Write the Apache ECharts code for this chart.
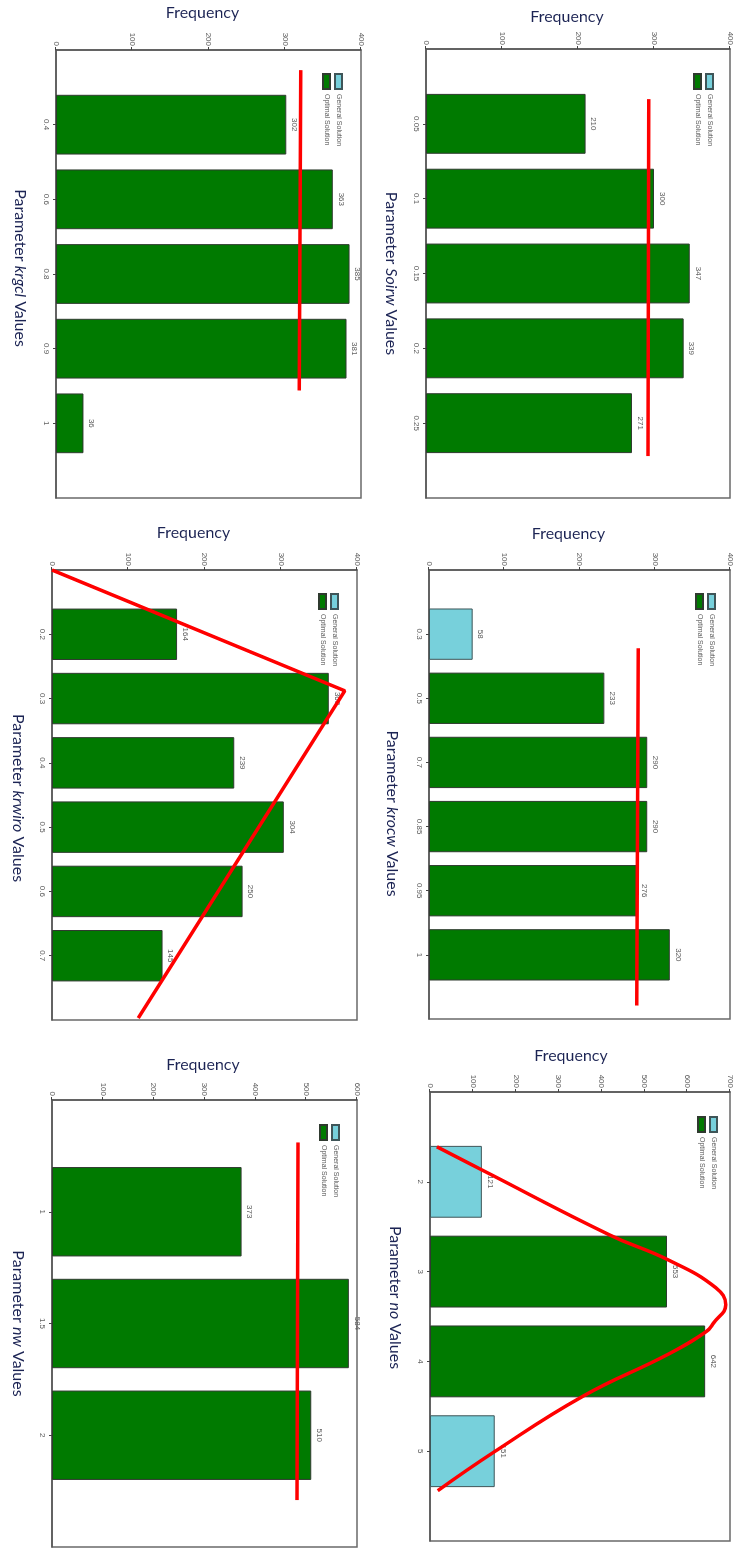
<!DOCTYPE html>
<html>
<head>
<meta charset="utf-8">
<title>Parameter frequency histograms</title>
<script src="https://cdn.jsdelivr.net/npm/echarts@6/dist/echarts.min.js"></script>
<style>
  html, body { margin: 0; padding: 0; background: #fff; overflow: hidden; width: 734px; height: 1549px; }
  /* the figure is laid out landscape and turned a quarter turn clockwise onto the page */
  #stage { position: absolute; left: 0; top: 0; width: 1549px; height: 734px;
           transform-origin: 0 0; transform: translate(734px, 0) rotate(90deg); }
</style>
</head>
<body>
<div id="stage"></div>
<script>
// ---- data ----------------------------------------------------------------
// Soirw
const soirwCats    = ['0.05', '0.1', '0.15', '0.2', '0.25'];
const soirwGeneral = ['-', '-', '-', '-', '-'];
const soirwOptimal = [210, 300, 347, 339, 271];
const soirwTrend   = [[0.67, 293], [5.44, 292]];

// krocw
const krocwCats    = ['0.3', '0.5', '0.7', '0.85', '0.95', '1'];
const krocwGeneral = [58, '-', '-', '-', '-', '-'];
const krocwOptimal = ['-', 233, 290, 290, 276, 320];
const krocwTrend   = [[1.22, 278], [6.79, 276]];

// no
const noCats    = ['2', '3', '4', '5'];
const noGeneral = [121, '-', '-', 151];
const noOptimal = ['-', 553, 642, '-'];
const noTrend   = [[0.61, 16], [0.87, 122], [1.59, 418], [1.87, 556], [2.18, 667], [2.37, 690],
                   [2.57, 662], [2.67, 644], [2.92, 556], [3.39, 356], [4.01, 149], [4.44, 18]];

// krgcl
const krgclCats    = ['0.4', '0.6', '0.8', '0.9', '1'];
const krgclGeneral = ['-', '-', '-', '-', '-'];
const krgclOptimal = [302, 363, 385, 381, 36];
const krgclTrend   = [[0.27, 321], [4.56, 319]];

// krwiro
const krwiroCats    = ['0.2', '0.3', '0.4', '0.5', '0.6', '0.7'];
const krwiroGeneral = ['-', '-', '-', '-', '-', '-'];
const krwiroOptimal = [164, 363, 239, 304, 250, 145];
const krwiroTrend   = [[0, 0], [1.88, 384], [6.97, 113]];

// nw
const nwCats    = ['1', '1.5', '2'];
const nwGeneral = ['-', '-', '-'];
const nwOptimal = [373, 584, 510];
const nwTrend   = [[0.38, 484], [3.58, 482]];

const frequencyMax = [400, 400, 700, 400, 400, 600];
const paramNames   = ['Soirw', 'krocw', 'no', 'krgcl', 'krwiro', 'nw'];

const panels = [
  { cats: soirwCats,  general: soirwGeneral,  optimal: soirwOptimal,  trend: soirwTrend,  smooth: false },
  { cats: krocwCats,  general: krocwGeneral,  optimal: krocwOptimal,  trend: krocwTrend,  smooth: false },
  { cats: noCats,     general: noGeneral,     optimal: noOptimal,     trend: noTrend,     smooth: true  },
  { cats: krgclCats,  general: krgclGeneral,  optimal: krgclOptimal,  trend: krgclTrend,  smooth: false },
  { cats: krwiroCats, general: krwiroGeneral, optimal: krwiroOptimal, trend: krwiroTrend, smooth: false },
  { cats: nwCats,     general: nwGeneral,     optimal: nwOptimal,     trend: nwTrend,     smooth: false }
];

// ---- layout (landscape coordinates, before the quarter turn) --------------
const layouts = [
  { left: 49,   top: 3,   width: 449, height: 305, legendLeft: 68,   legendTop: 15,  nameGap: 27, namePad: [0, 0, 0, 0],  freqGap: 24, freqPad: [0, 22, 0, 0] },
  { left: 570,  top: 0,   width: 449, height: 305, legendLeft: 588,  legendTop: 13,  nameGap: 29, namePad: [0, 0, 0, 38], freqGap: 28, freqPad: [0, 22, 0, 0] },
  { left: 1092, top: 0,   width: 449, height: 304, legendLeft: 1111, legendTop: 11,  nameGap: 27, namePad: [0, 38, 0, 0], freqGap: 28, freqPad: [0, 18, 0, 0] },
  { left: 50,   top: 373, width: 448, height: 305, legendLeft: 68,   legendTop: 386, nameGap: 28, namePad: [0, 12, 0, 0], freqGap: 29, freqPad: [0, 12, 0, 0] },
  { left: 570,  top: 377, width: 450, height: 305, legendLeft: 588,  legendTop: 390, nameGap: 26, namePad: [0, 0, 0, 6],  freqGap: 29, freqPad: [0, 22, 0, 0] },
  { left: 1100, top: 377, width: 447, height: 305, legendLeft: 1119, legendTop: 389, nameGap: 26, namePad: [0, 0, 0, 0],  freqGap: 27, freqPad: [0, 3, 0, 0] }
];

const TITLE_COLOR = '#1c2454';
const SMALL_COLOR = '#5a5a5a';
const GREEN = '#007a00';
const CYAN = '#77d0db';

const option = {
  animation: false,
  backgroundColor: '#fff',
  grid: [], xAxis: [], yAxis: [], legend: [], series: []
};

// an empty slot is kept on each side of the bars
const padSlots = arr => ['-'].concat(arr, ['-']);

panels.forEach((p, i) => {
  const L = layouts[i];
  const n = p.cats.length;
  const onCategory = idx => idx > 0 && idx <= n;

  option.grid.push({
    left: L.left, top: L.top, width: L.width, height: L.height,
    show: true, borderColor: '#6a6a6a', borderWidth: 1.5, backgroundColor: '#fff'
  });

  option.xAxis.push({
    type: 'category', gridIndex: i, boundaryGap: false,
    data: [''].concat(p.cats, ['']),
    axisLine: { show: true, lineStyle: { color: '#555', width: 1.5 } },
    axisTick: { show: true, interval: onCategory, length: 3, lineStyle: { color: '#444' } },
    axisLabel: { interval: onCategory, fontSize: 8, color: SMALL_COLOR, margin: 6, fontFamily: 'Liberation Sans' },
    splitLine: { show: false },
    name: 'Parameter {i|' + paramNames[i] + '} Values',
    nameLocation: 'middle', nameGap: L.nameGap,
    nameTextStyle: {
      fontFamily: 'Lato', fontSize: 16, color: TITLE_COLOR, padding: L.namePad,
      rich: { i: { fontFamily: 'Lato', fontSize: 16, fontStyle: 'italic', color: TITLE_COLOR } }
    }
  });
  // hidden numeric twin of the category axis, used by the red overlay line
  option.xAxis.push({ type: 'value', gridIndex: i, min: 0, max: n + 1, show: false });

  option.yAxis.push({
    type: 'value', gridIndex: i, min: 0, max: frequencyMax[i], interval: 100,
    splitLine: { show: false },
    axisLine: { show: true, lineStyle: { color: '#555', width: 1.5 } },
    axisTick: { show: true, length: 3, lineStyle: { color: '#444' } },
    axisLabel: { fontSize: 8, color: SMALL_COLOR, margin: 4, fontFamily: 'Liberation Sans' },
    name: 'Frequency', nameLocation: 'middle', nameGap: L.freqGap,
    nameTextStyle: { fontFamily: 'Lato', fontSize: 16, color: TITLE_COLOR, padding: L.freqPad }
  });

  option.legend.push({
    orient: 'vertical', left: L.legendLeft, top: L.legendTop,
    icon: 'rect', itemWidth: 15, itemHeight: 7, itemGap: 3,
    data: ['General Solution', 'Optimal Solution'],
    textStyle: { fontSize: 7, color: SMALL_COLOR, fontFamily: 'Liberation Sans' },
    selectedMode: false
  });

  const barLabel = { show: true, position: 'top', distance: 4, fontSize: 8, color: SMALL_COLOR, fontFamily: 'Liberation Sans' };

  option.series.push({
    type: 'bar', name: 'General Solution', xAxisIndex: 2 * i, yAxisIndex: i,
    stack: 'freq' + i, barWidth: '80%', data: padSlots(p.general),
    itemStyle: { color: CYAN, borderColor: '#3f5558', borderWidth: 1 },
    label: barLabel
  });
  option.series.push({
    type: 'bar', name: 'Optimal Solution', xAxisIndex: 2 * i, yAxisIndex: i,
    stack: 'freq' + i, barWidth: '80%', data: padSlots(p.optimal),
    itemStyle: { color: GREEN, borderColor: '#2f3a2f', borderWidth: 1 },
    label: barLabel
  });
  option.series.push({
    type: 'line', name: 'trend' + i, xAxisIndex: 2 * i + 1, yAxisIndex: i,
    data: p.trend, smooth: p.smooth ? 0.45 : false, symbol: 'none', z: 5,
    lineStyle: { color: '#ff0000', width: 3.5 }
  });
});

const chart = echarts.init(document.getElementById('stage'), null, { renderer: 'canvas', width: 1549, height: 734 });
chart.setOption(option);
</script>
</body>
</html>
